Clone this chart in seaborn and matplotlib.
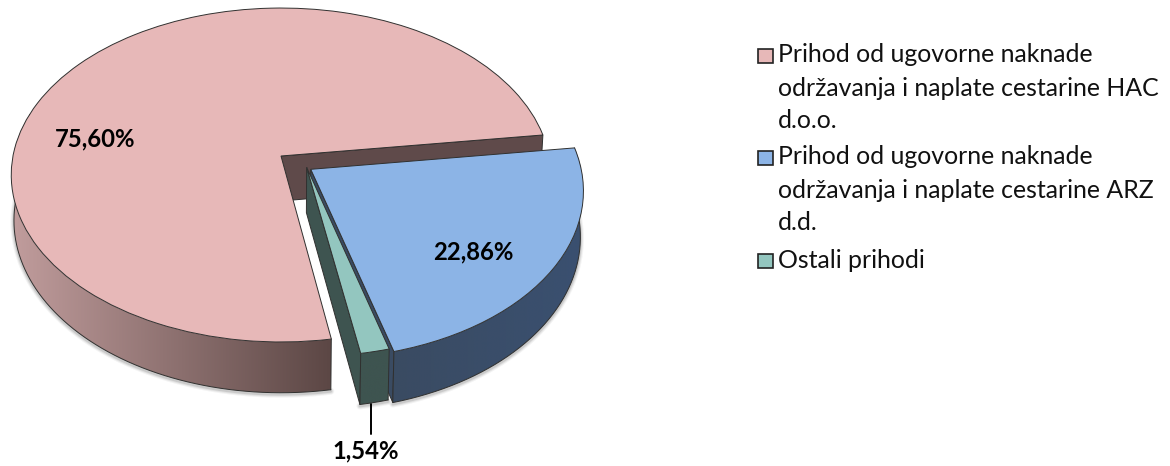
import numpy as np
import matplotlib
matplotlib.use("Agg")
import matplotlib.pyplot as plt
from matplotlib.colors import LinearSegmentedColormap
from matplotlib.patches import Polygon, Rectangle
from matplotlib.transforms import Transform
import seaborn as sns

# ---- data ----
categories = [
    "Prihod od ugovorne naknade\nodržavanja i naplate cestarine HAC\nd.o.o.",
    "Prihod od ugovorne naknade\nodržavanja i naplate cestarine ARZ\nd.d.",
    "Ostali prihodi",
]
shares = [75.60, 22.86, 1.54]

# ---- style / layout ----
top_colors = ["#e7b8b8", "#8cb4e6", "#93c6bf"]
wall_colors = ["#5f4a4a", "#3a4b62", "#3e5450"]
side_from = ["#c09c9c", "#3a4b62", "#3e5450"]
side_to = ["#5c4745", "#3a5070", "#3e5450"]
slice_offsets = [(0.0, 0.0), (0.110, -0.080), (0.095, -0.068)]
EDGE = "#30302f"
X0, Y0, RX, RY, PERSP, DEPTH, NARROW = 281.0, 156.0, 268.0, 164.8, 0.1138, 45.0, 0.99
START = 279.6

sns.set_theme(style="white")
plt.rcParams["font.family"] = ["Lato", "DejaVu Sans"]
palette = sns.color_palette(top_colors)


def project(px, py, z=0.0):
    """Unit pie plane (with z=1 for the underside) to picture coordinates."""
    px, py = np.asarray(px, float), np.asarray(py, float)
    w = 1 + PERSP * py
    x = X0 + RX * px / w * (1 - (1 - NARROW) * z)
    y = Y0 - RY * py / w + DEPTH * z / w
    return x, y


class PlaneTransform(Transform):
    input_dims = output_dims = 2
    is_separable = False
    has_inverse = False

    def transform_non_affine(self, values):
        x, y = project(values[:, 0], values[:, 1])
        return np.column_stack([x, y])


fig = plt.figure(figsize=(11.70, 4.66), dpi=100)
ax = fig.add_axes([0, 0, 1, 1])
wedges, _ = ax.pie(shares, colors=palette, counterclock=False, startangle=START,
                   wedgeprops=dict(edgecolor=EDGE, linewidth=0.7))
ax.set_aspect("auto")
plane = PlaneTransform() + ax.transData


def rim(c, a, z):
    t = np.radians(a)
    return project(c[0] + np.cos(t), c[1] + np.sin(t), z)


def solid(i, wedge, a_from, a_to, wall_angles, base_z):
    c = slice_offsets[i]
    wedge.set_center(c)
    wedge.set_transform(plane)
    wedge.set_zorder(base_z + 3)
    # cut walls
    for a in wall_angles:
        ax0, ay0 = project(c[0], c[1], 0)
        ax1, ay1 = project(c[0], c[1], 1)
        bx0, by0 = rim(c, a, 0)
        bx1, by1 = rim(c, a, 1)
        ax.add_patch(Polygon([(ax0, ay0), (bx0, by0), (bx1, by1), (ax1, ay1)], closed=True,
                             facecolor=wall_colors[i], edgecolor=EDGE, lw=0.7, zorder=base_z + 1))
    # outer side with a smooth left-to-right shade
    angles = np.linspace(a_from, a_to, 141)
    x0s, y0s = rim(c, angles, 0)
    x1s, y1s = rim(c, angles, 1)
    outline = np.vstack([np.column_stack([x0s, y0s]), np.column_stack([x1s, y1s])[::-1]])
    shape = Polygon(outline, closed=True, facecolor="none", edgecolor="none", zorder=base_z + 2)
    ax.add_patch(shape)
    cmap = LinearSegmentedColormap.from_list("side", [side_from[i], side_to[i]])
    img = ax.imshow(np.linspace(0, 1, 256)[None, :], cmap=cmap, aspect="auto", interpolation="bilinear",
                    extent=(x1s.min(), x1s.max(), y1s.max() + 2, y0s.min() - 2), zorder=base_z + 2)
    img.set_clip_path(shape)
    for lw, alpha in ((5, 0.05), (3.5, 0.08), (2, 0.12)):
        ax.plot(x1s, y1s + 1.5, color="#202020", lw=lw, alpha=alpha, zorder=base_z, solid_capstyle="round")
    ax.plot(x1s, y1s, color=EDGE, lw=0.7, zorder=base_z + 2.5)
    ax.plot([x0s[0], x1s[0]], [y0s[0], y1s[0]], color=EDGE, lw=0.7, zorder=base_z + 2.5)
    ax.plot([x0s[-1], x1s[-1]], [y0s[-1], y1s[-1]], color=EDGE, lw=0.7, zorder=base_z + 2.5)


cuts = START - 3.6 * np.cumsum([0] + shares)
pink_end = cuts[1] + 360
blue_end = cuts[2] + 360
solid(0, wedges[0], 165.0, START, [pink_end - 360], 1)
solid(1, wedges[1], blue_end, pink_end, [blue_end], 10)
solid(2, wedges[2], START, blue_end, [START], 20)

# percent labels
fmt = [f"{v:.2f}%".replace(".", ",") for v in shares]
label_xy = [(95, 139), (473, 252), (366, 451)]
for s, (lx, ly) in zip(fmt, label_xy):
    ax.text(lx, ly, s, fontsize=17.2, fontweight="bold", color="black", ha="center", va="center", zorder=40)
ax.plot([371, 371], [404, 434], color="black", lw=1.4, zorder=30)

# legend
first_lines = [55, 157, 260]
for cat, col, y in zip(categories, palette, first_lines):
    ax.add_patch(Rectangle((757.5, y - 6.5), 15, 14.5, facecolor=col, edgecolor="#222222", lw=1.2, zorder=30))
    for j, line in enumerate(cat.split("\n")):
        ax.text(778, y + 33 * j, line, fontsize=17.9, color="#111111", ha="left", va="center", zorder=30)

ax.set_xlim(0, 1170)
ax.set_ylim(466, 0)
ax.axis("off")
fig.savefig("out.png", dpi=100, facecolor="white")
